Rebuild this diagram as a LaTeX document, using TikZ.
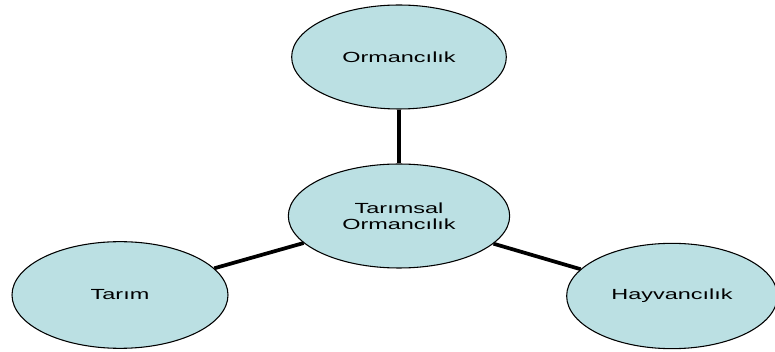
\documentclass[tikz,border=0pt]{standalone}
\usepackage{fontspec}
\setmainfont{Liberation Sans}
\newfontfamily\widefont[FakeStretch=1.6]{Liberation Sans}
\usetikzlibrary{shapes.geometric}

\definecolor{bubblefill}{HTML}{BBE0E3}

\tikzset{
	bubble/.style={ellipse, draw, line width=0.8pt, fill=bubblefill, inner sep=0pt,
		font=\widefont\fontsize{11}{12}\selectfont, align=center},
	link/.style={line width=2.8pt},
}

\begin{document}
\begin{tikzpicture}[x=0.75pt, y=-0.75pt]
		\useasboundingbox (0, 0) rectangle (775, 352);

		\node[bubble, minimum width=161pt, minimum height=78pt] (orman) at (399, 57) {Ormanc\i l\i k};
		\node[bubble, minimum width=166pt, minimum height=78pt] (tarimsal) at (399, 216) {Tar\i msal\\Ormanc\i l\i k};
		\node[bubble, minimum width=162pt, minimum height=80pt] (tarim) at (120, 295) {Tar\i m};
		\node[bubble, minimum width=158pt, minimum height=79pt] (hayvan) at (672, 296) {Hayvanc\i l\i k};

		\draw[link] (orman) -- (tarimsal);
		\draw[link] (tarim) -- (tarimsal);
		\draw[link] (hayvan) -- (tarimsal);
	\end{tikzpicture}
\end{document}
